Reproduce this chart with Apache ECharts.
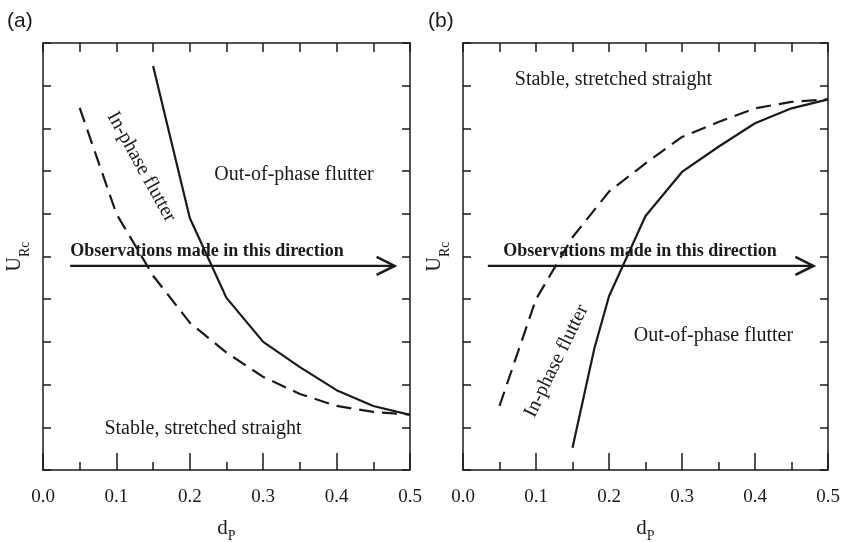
<!DOCTYPE html>
<html>
<head>
<meta charset="utf-8">
<script src="https://cdn.jsdelivr.net/npm/echarts@6/dist/echarts.min.js"></script>
<style>
  html, body { margin: 0; padding: 0; background: #fff; }
  #chart { width: 842px; height: 542px; }
</style>
</head>
<body>
<div id="chart"></div>
<script>
// panel (a): boundaries falling with d_P
const leftSolidX = [0.15, 0.2, 0.25, 0.3, 0.35, 0.4, 0.45, 0.5];
const leftSolidY = [9.46, 5.9, 4.03, 3.0, 2.41, 1.87, 1.5, 1.29];
const leftDashedX = [0.05, 0.1, 0.15, 0.2, 0.25, 0.3, 0.35, 0.4, 0.45, 0.5];
const leftDashedY = [8.48, 6.0, 4.55, 3.45, 2.75, 2.18, 1.78, 1.5, 1.36, 1.3];

// panel (b): boundaries rising with d_P
const rightSolidX = [0.15, 0.18, 0.2, 0.25, 0.3, 0.35, 0.4, 0.45, 0.5];
const rightSolidY = [0.52, 2.85, 4.07, 5.95, 6.98, 7.57, 8.12, 8.47, 8.68];
const rightDashedX = [0.05, 0.1, 0.15, 0.2, 0.25, 0.3, 0.35, 0.4, 0.45, 0.5];
const rightDashedY = [1.5, 4.0, 5.45, 6.52, 7.18, 7.8, 8.15, 8.47, 8.62, 8.68];

// observation arrows: [start d_P, end d_P, level]
const leftArrow = [0.037, 0.479, 4.78];
const rightArrow = [0.034, 0.48, 4.78];

const panelLabels = ["(a)", "(b)"];

const leftNotes = [
  { x: 0.342, y: 6.91, text: "Out-of-phase flutter", rot: 0, align: "center", bold: false },
  { x: 0.218, y: 0.96, text: "Stable, stretched straight", rot: 0, align: "center", bold: false },
  { x: 0.134, y: 7.1, text: "In-phase flutter", rot: -61, align: "center", bold: false },
  { x: 0.037, y: 5.13, text: "Observations made in this direction", rot: 0, align: "left", bold: true }
];
const rightNotes = [
  { x: 0.343, y: 3.14, text: "Out-of-phase flutter", rot: 0, align: "center", bold: false },
  { x: 0.206, y: 9.13, text: "Stable, stretched straight", rot: 0, align: "center", bold: false },
  { x: 0.128, y: 2.55, text: "In-phase flutter", rot: 64, align: "center", bold: false },
  { x: 0.055, y: 5.13, text: "Observations made in this direction", rot: 0, align: "left", bold: true }
];

const ink = "#1a1a1a";
const serif = "'Liberation Serif', 'Times New Roman', serif";
const axisLineStyle = { color: ink, width: 1.5 };

function zip(xs, ys) {
  return xs.map((x, i) => [x, ys[i]]);
}

function bottomAxis(gridIndex) {
  return {
    gridIndex,
    type: "value",
    position: "bottom",
    min: 0,
    max: 0.5,
    interval: 0.1,
    axisLine: { onZero: false, lineStyle: axisLineStyle },
    axisTick: { inside: true, length: 17, lineStyle: axisLineStyle },
    minorTick: { show: true, splitNumber: 2, length: 8, lineStyle: axisLineStyle },
    splitLine: { show: false },
    axisLabel: {
      formatter: (v) => v.toFixed(1),
      fontFamily: serif,
      fontSize: 19,
      color: ink,
      margin: 18
    },
    name: "{d|d}{s|P}",
    nameLocation: "middle",
    nameGap: 43,
    nameTextStyle: {
      rich: {
        d: { fontFamily: serif, fontSize: 21, color: ink, lineHeight: 30, verticalAlign: "middle" },
        s: { fontFamily: serif, fontSize: 14, color: ink, lineHeight: 14, verticalAlign: "bottom" }
      }
    }
  };
}

function topAxis(gridIndex) {
  return {
    gridIndex,
    type: "value",
    position: "top",
    min: 0,
    max: 0.5,
    interval: 0.1,
    axisLine: { onZero: false, lineStyle: axisLineStyle },
    axisTick: { inside: true, length: 9, lineStyle: axisLineStyle },
    minorTick: { show: true, splitNumber: 2, length: 9, lineStyle: axisLineStyle },
    splitLine: { show: false },
    axisLabel: { show: false }
  };
}

function leftAxis(gridIndex) {
  return {
    gridIndex,
    type: "value",
    position: "left",
    min: 0,
    max: 10,
    interval: 1,
    axisLine: { show: true, onZero: false, lineStyle: axisLineStyle },
    axisTick: { show: true, inside: true, length: 8, lineStyle: axisLineStyle },
    splitLine: { show: false },
    axisLabel: { show: false },
    name: "{u|U}{s|Rc}",
    nameLocation: "middle",
    nameGap: 11,
    nameRotate: 90,
    nameTextStyle: {
      rich: {
        u: { fontFamily: serif, fontSize: 20, color: ink, lineHeight: 34, verticalAlign: "middle" },
        s: { fontFamily: serif, fontSize: 14, color: ink, lineHeight: 14, verticalAlign: "bottom" }
      }
    }
  };
}

function rightAxis(gridIndex) {
  return {
    gridIndex,
    type: "value",
    position: "right",
    min: 0,
    max: 10,
    interval: 1,
    axisLine: { show: true, onZero: false, lineStyle: axisLineStyle },
    axisTick: { show: true, inside: true, length: 8, lineStyle: axisLineStyle },
    splitLine: { show: false },
    axisLabel: { show: false }
  };
}

function boundarySeries(axisIndex, points, dashed) {
  return {
    type: "line",
    xAxisIndex: axisIndex,
    yAxisIndex: axisIndex,
    data: points,
    showSymbol: false,
    symbol: "none",
    smooth: false,
    silent: true,
    lineStyle: { color: ink, width: 2.2, type: dashed ? [15, 8] : "solid" }
  };
}

function arrowSeries(axisIndex, arrow) {
  return {
    type: "custom",
    xAxisIndex: axisIndex,
    yAxisIndex: axisIndex,
    silent: true,
    clip: false,
    data: [arrow],
    renderItem: (params, api) => {
      const p0 = api.coord([api.value(0), api.value(2)]);
      const p1 = api.coord([api.value(1), api.value(2)]);
      return {
        type: "group",
        children: [
          {
            type: "line",
            shape: { x1: p0[0], y1: p0[1], x2: p1[0] - 1, y2: p1[1] },
            style: { stroke: ink, lineWidth: 2.2 }
          },
          {
            type: "polyline",
            shape: { points: [[p1[0] - 18, p1[1] - 9], [p1[0], p1[1]], [p1[0] - 18, p1[1] + 9]] },
            style: { stroke: ink, lineWidth: 2.6, fill: null }
          }
        ]
      };
    }
  };
}

function notesSeries(axisIndex, notes) {
  return {
    type: "custom",
    xAxisIndex: axisIndex,
    yAxisIndex: axisIndex,
    silent: true,
    clip: false,
    data: notes.map((n) => [n.x, n.y]),
    renderItem: (params, api) => {
      const note = notes[params.dataIndex];
      const p = api.coord([api.value(0), api.value(1)]);
      return {
        type: "text",
        x: p[0],
        y: p[1],
        rotation: (note.rot * Math.PI) / 180,
        style: {
          text: note.text,
          fill: ink,
          font: `${note.bold ? "bold 18px" : "20px"} ${serif}`,
          align: note.align,
          verticalAlign: "middle"
        }
      };
    }
  };
}

const chart = echarts.init(document.getElementById("chart"), null, { renderer: "canvas" });

chart.setOption({
  animation: false,
  backgroundColor: "#fff",
  grid: [
    { left: 43, top: 43, width: 367, height: 427, outerBoundsMode: "none", containLabel: false },
    { left: 463, top: 43, width: 365, height: 427, outerBoundsMode: "none", containLabel: false }
  ],
  xAxis: [bottomAxis(0), bottomAxis(1), topAxis(0), topAxis(1)],
  yAxis: [leftAxis(0), leftAxis(1), rightAxis(0), rightAxis(1)],
  graphic: [
    {
      type: "text",
      left: 7,
      top: 11,
      style: { text: panelLabels[0], font: "21px 'Liberation Sans', Arial, sans-serif", fill: ink }
    },
    {
      type: "text",
      left: 428,
      top: 11,
      style: { text: panelLabels[1], font: "21px 'Liberation Sans', Arial, sans-serif", fill: ink }
    }
  ],
  series: [
    boundarySeries(0, zip(leftSolidX, leftSolidY), false),
    boundarySeries(0, zip(leftDashedX, leftDashedY), true),
    boundarySeries(1, zip(rightSolidX, rightSolidY), false),
    boundarySeries(1, zip(rightDashedX, rightDashedY), true),
    arrowSeries(0, leftArrow),
    arrowSeries(1, rightArrow),
    notesSeries(0, leftNotes),
    notesSeries(1, rightNotes)
  ]
});
</script>
</body>
</html>
